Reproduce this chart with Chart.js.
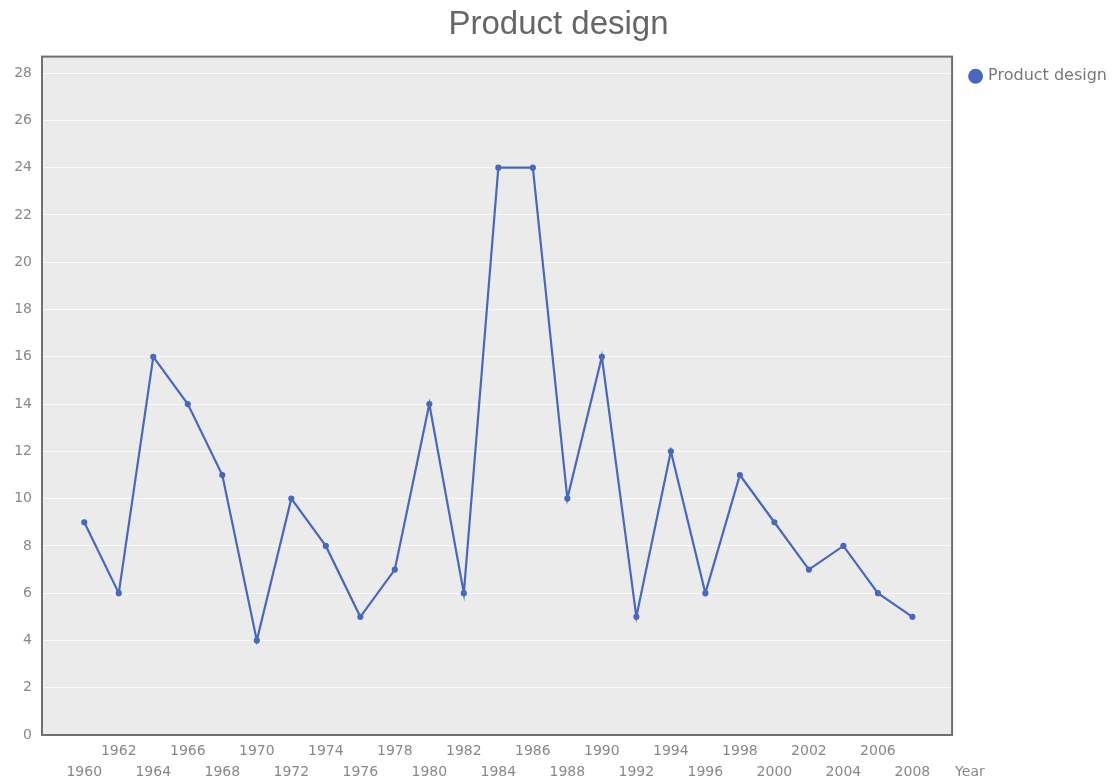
<!DOCTYPE html>
<html>
<head>
<meta charset="utf-8">
<script src="https://cdn.jsdelivr.net/npm/chart.js@4.4.1/dist/chart.umd.min.js"></script>
<style>
  html, body { margin: 0; padding: 0; background: #ffffff; }
  #wrap { width: 1117px; height: 782px; position: relative; }
</style>
</head>
<body>
<div id="wrap"><canvas id="chart" width="1117" height="782"></canvas></div>
<script>
// Product design counts per year
const years = [1960, 1962, 1964, 1966, 1968, 1970, 1972, 1974, 1976, 1978, 1980, 1982, 1984,
               1986, 1988, 1990, 1992, 1994, 1996, 1998, 2000, 2002, 2004, 2006, 2008];
const productDesign = [9, 6, 16, 14, 11, 4, 10, 8, 5, 7, 14, 6, 24,
                       24, 10, 16, 5, 12, 6, 11, 9, 7, 8, 6, 5];
const yTicks = [0, 2, 4, 6, 8, 10, 12, 14, 16, 18, 20, 22, 24, 26, 28];

const seriesName = 'Product design';
const xAxisName = 'Year';
const lineColor = '#4868c0';
const tickFont = { family: 'DejaVu Sans', size: 14, lineHeight: 1.5 };

// plot panel: grey fill behind the data, dark frame around it
const panelPlugin = {
  id: 'panel',
  beforeDraw(chart) {
    const { ctx, chartArea: a } = chart;
    ctx.save();
    ctx.fillStyle = '#ebebeb';
    ctx.fillRect(a.left, a.top, a.right - a.left, a.bottom - a.top);
    ctx.restore();
  },
  afterDraw(chart) {
    const { ctx, chartArea: a } = chart;
    ctx.save();
    ctx.strokeStyle = '#707070';
    ctx.lineWidth = 2;
    ctx.strokeRect(a.left, a.top, a.right - a.left, a.bottom - a.top);
    // axis name at the end of the x axis, on the lower label row
    ctx.fillStyle = '#888888';
    ctx.font = '14px "DejaVu Sans"';
    ctx.textAlign = 'left';
    ctx.textBaseline = 'middle';
    ctx.fillText(xAxisName, a.right + 3, a.bottom + 37);
    ctx.restore();
  }
};

new Chart(document.getElementById('chart'), {
  type: 'line',
  data: {
    datasets: [{
      label: seriesName,
      data: years.map((y, i) => ({ x: y, y: productDesign[i] })),
      borderColor: lineColor,
      backgroundColor: lineColor,
      borderWidth: 2.2,
      pointRadius: 2,
      pointHoverRadius: 2,
      pointStyle: 'circle',
      tension: 0
    }]
  },
  options: {
    responsive: false,
    animation: false,
    layout: { padding: { left: 0, right: 0, top: 0, bottom: 0 } },
    plugins: {
      title: {
        display: true,
        text: seriesName,
        color: '#666666',
        font: { family: 'Liberation Sans', size: 33, weight: 'normal' },
        padding: { top: 5, bottom: 12 }
      },
      legend: {
        position: 'right',
        align: 'start',
        title: {
          display: true,
          text: ' ',
          font: { size: 1 },
          padding: { top: 0, bottom: 48 }
        },
        labels: {
          usePointStyle: true,
          pointStyle: 'circle',
          boxWidth: 9,
          boxHeight: 9,
          color: '#777777',
          font: { family: 'DejaVu Sans', size: 16 },
          padding: 19
        }
      },
      tooltip: { enabled: false }
    },
    scales: {
      x: {
        type: 'linear',
        min: 1957.55,
        max: 2010.3,
        afterBuildTicks(scale) { scale.ticks = years.map(v => ({ value: v })); },
        afterFit(scale) { scale.height = 47; },
        grid: { display: false, drawTicks: false },
        border: { display: false },
        ticks: {
          autoSkip: false,
          maxRotation: 0,
          minRotation: 0,
          padding: 6,
          color: '#888888',
          font: tickFont,
          callback(value) {
            const idx = Math.round((value - years[0]) / 2);
            return idx % 2 === 0 ? ['', String(value)] : [String(value)];
          }
        }
      },
      y: {
        min: 0,
        max: 28.7,
        afterBuildTicks(scale) { scale.ticks = yTicks.map(v => ({ value: v })); },
        afterFit(scale) { scale.width = 42; },
        grid: { color: 'rgba(255,255,255,0.7)', lineWidth: 1, drawTicks: false },
        border: { display: false },
        ticks: {
          padding: 10,
          color: '#888888',
          font: { family: 'DejaVu Sans', size: 14 }
        }
      }
    }
  },
  plugins: [panelPlugin]
});
</script>
</body>
</html>
